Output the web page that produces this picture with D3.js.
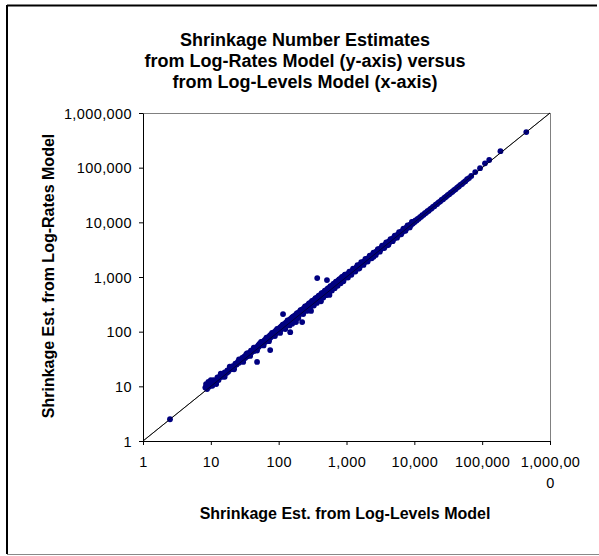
<!DOCTYPE html>
<html><head><meta charset="utf-8">
<script src="https://cdn.jsdelivr.net/npm/d3@7"></script>
<style>
body{margin:0;background:#fff;}
svg{display:block;}
</style></head>
<body><svg id="c" width="599" height="556"></svg>
<script>
const titleLines = ["Shrinkage Number Estimates","from Log-Rates Model (y-axis) versus","from Log-Levels Model (x-axis)"];
const xTitle = "Shrinkage Est. from Log-Levels Model";
const yTitle = "Shrinkage Est. from Log-Rates Model";
const tickValues = [1,10,100,1000,10000,100000,1000000];

// x / y pairs, grouped by decade of x
const ptsLow = [[2.5,2.5]];
const pts10 = [[8.3,9.5],[8.5,11],[8.6,10],[8.8,8.9],[9,10.5],[9.2,12],[9.4,9.8],[10.2,11.5],[10.5,10.2],[11,13],[11.5,12],[12,12.5],[12.5,14.5],[13,13],[13.5,15],[14,14.8],[15,16.5],[15.5,15],[16,18],[17,17.5],[17.5,19.5],[18,18.5],[19,21],[20,20.5],[21,23.5],[22,22],[23,26],[24,25],[25,28],[26,27],[27,30],[28,29],[29,33],[30,31],[31,35],[32,33],[33,38],[34,35],[35,40],[36,37],[37,41],[38,39],[39,45],[40,42],[42,47],[43,44],[44,50],[45,47],[47,52],[48,49],[50,56],[51,53],[52,60],[54,57],[55,62],[57,58],[58,66],[60,63],[62,70],[63,65],[65,73],[67,69],[68,78],[70,73],[72,81],[74,76],[75,86],[77,80],[79,90],[81,84],[83,94],[85,88],[87,99],[89,92],[91,104],[93,96],[95,108],[97,100],[48,28],[75,46],
  [10,13],[12,11],[14,17],[16,15],[19,23],[22,20.5],[26,31],[30,28],[34,40],[38,36],[43,51],[48,45],[55,65],[60,56],[66,78],[72,67],[80,95],[88,83],[95,112]];
const pts100 = [[100,112],[102,105],[105,120],[108,110],[110,126],[113,116],[116,132],[116,210],[119,122],[122,139],[125,128],[128,146],[131,134],[134,153],[138,141],[141,160],[145,148],[148,98],[148,170],[152,155],[156,178],[158,140],[160,164],[164,188],[168,172],[172,197],[177,181],[180,150],[181,207],[186,190],[190,218],[195,200],[200,228],[205,210],[210,240],[215,220],[222,150],[220,252],[226,231],[232,265],[238,243],[244,280],[250,256],[256,292],[262,268],[268,305],[275,280],[282,322],[289,296],[296,338],[300,240],[304,310],[311,355],[319,326],[327,373],[335,342],[343,392],[352,360],[360,410],[370,378],[370,955],[379,432],[388,396],[398,452],[408,416],[418,475],[420,360],[428,437],[439,500],[450,460],[461,525],[473,482],[485,550],[497,507],[509,580],[515,880],[522,533],[535,608],[548,560],[560,470],[562,640],[576,588],[590,672],[605,617],[620,705],[635,648],[651,740],[667,680],[684,778],[700,715],[718,818],[736,750],[754,858],[773,790],[792,900],[812,828],[832,948],[853,870],[874,995],[896,915],[918,1045],[941,960],[965,1100],[989,1010],
  [105,95],[115,135],[125,112],[135,160],[145,130],[160,185],[170,155],[185,215],[195,178],[210,248],[230,210],[245,290],[260,240],[280,330],[290,265],[310,365],[330,300],[350,410],[365,335],[390,455],[410,380],[430,505],[455,420],[480,560],[500,465],[530,620],[555,515],[580,680],[610,565],[640,745],[670,625],[700,820],[740,690],[780,905],[820,765],[860,1000],[900,840],[950,1100]];
const pts1000 = [[1000,1080],[1030,1040],[1060,1150],[1090,1100],[1120,1200],[1150,1160],[1190,1280],[1220,1230],[1260,1350],[1290,1300],[1330,1420],[1370,1380],[1410,1510],[1450,1460],[1500,1600],[1500,1420],[1540,1550],[1590,1700],[1640,1650],[1690,1800],[1740,1750],[1790,1910],[1850,1860],[1900,2030],[1960,1970],[2020,2150],[2080,2090],[2150,2290],[2210,2220],[2280,2420],[2350,2360],[2420,2570],[2500,2510],[2500,2350],[2570,2730],[2650,2660],[2730,2900],[2820,2830],[2900,3080],[2990,3000],[3080,3270],[3180,3190],[3280,3470],[3380,3390],[3480,3690],[3590,3600],[3700,3920],[3810,3820],[3930,4160],[4000,3800],[4050,4060],[4180,4420],[4310,4320],[4440,4690],[4580,4590],[4720,4980],[4860,4870],[5010,5290],[5170,5180],[5330,5620],[5490,5500],[5660,5970],[5840,5850],[6020,6340],[6200,6210],[6400,6730],[6600,6610],[6800,7150],[7010,7020],[7230,7600],[7450,7460],[7680,8070],[7920,7930],[8160,8570],[8410,8420],[8670,9100],[8940,8950],[9220,9670],[9500,9510],[9800,10270],
  [1050,980],[1100,1250],[1180,1100],[1250,1420],[1350,1260],[1450,1640],[1550,1450],[1650,1860],[1780,1660],[1900,2140],[2050,1920],[2200,2470],[2350,2200],[2500,2800],[2700,2530],[2900,3240],[3100,2910],[3350,3740],[3600,3380],[3850,4290],[4150,3900],[4450,4950],[4800,4520],[5150,5720],[5550,5230],[5950,6600],[6400,6040],[6900,7640],[7400,6980],[7950,8800],[8550,8080],[9200,10150]];
const pts10000 = [[10100,10100],[10400,10800],[10800,10800],[11200,11600],[11600,11600],[12100,12500],[12600,12600],[13100,13500],[13700,13700],[14300,14700],[14900,14900],[15600,16000],[16300,16300],[17100,17500],[17900,17900],[18800,19200],[19700,19700],[20700,21100],[21700,21700],[22800,23200],[24000,24000],[25200,25600],[26500,26500],[27900,28300],[29400,29400],[31000,31400],[32700,32700],[34500,34900],[36400,36400],[38400,38800],[40500,40500],[42800,43200],[45200,45200],[47800,48500],[50500,50500],[53400,54000],[56500,56500],[60000,61500],[64000,64500],[69000,70500],[79000,83000],[93000,98000]];
const ptsHigh = [[110000,120000],[127000,138000],[186000,200000],[447000,447000]];

const svg = d3.select("#c");
const font = "'Liberation Sans', Arial, sans-serif";

// outer frame
svg.append("line").attr("x1",7).attr("y1",5.5).attr("x2",597).attr("y2",5.5).attr("stroke","#000").attr("stroke-width",2);
svg.append("line").attr("x1",7).attr("y1",5).attr("x2",7).attr("y2",554).attr("stroke","#000").attr("stroke-width",2);
svg.append("line").attr("x1",7).attr("y1",554.5).attr("x2",599).attr("y2",554.5).attr("stroke","#888").attr("stroke-width",1);

const x = d3.scaleLog().domain([1,1e6]).range([143,550]);
const y = d3.scaleLog().domain([1,1e6]).range([441,113]);

// plot area gray border (top, right)
svg.append("line").attr("x1",143).attr("y1",113.5).attr("x2",550.5).attr("y2",113.5).attr("stroke","#808080");
svg.append("line").attr("x1",550.5).attr("y1",113).attr("x2",550.5).attr("y2",441).attr("stroke","#808080");

// diagonal
svg.append("line").attr("x1",x(1)).attr("y1",y(1)).attr("x2",x(1e6)).attr("y2",y(1e6)).attr("stroke","#000").attr("stroke-width",0.9);

// points
const allPts = [].concat(ptsLow,pts10,pts100,pts1000,pts10000,ptsHigh);
svg.append("g").selectAll("circle").data(allPts).join("circle")
  .attr("cx",d=>x(d[0])).attr("cy",d=>y(d[1])).attr("r",2.9).attr("fill","#000080");

// redraw diagonal on top faintly (visible through the band as in the original)
svg.append("line").attr("x1",x(1)).attr("y1",y(1)).attr("x2",x(1e6)).attr("y2",y(1e6)).attr("stroke","#000").attr("stroke-width",0.8).attr("opacity",0.7);

const fmt = d3.format(",");
const xAxis = svg.append("g").attr("transform","translate(0,441)")
  .call(d3.axisBottom(x).tickValues(tickValues).tickFormat(fmt).tickSize(4).tickSizeOuter(0));
const yAxis = svg.append("g").attr("transform","translate(143,0)")
  .call(d3.axisLeft(y).tickValues(tickValues).tickFormat(fmt).tickSize(4).tickSizeOuter(0));
[xAxis,yAxis].forEach(g=>{
  g.select(".domain").attr("stroke","#000");
  g.selectAll(".tick line").attr("stroke","#000");
  g.selectAll("text").attr("font-family",font).attr("font-size",14.5).attr("letter-spacing",0.4).attr("fill","#000");
});
xAxis.selectAll(".tick text").attr("dy",null).attr("y",26);
yAxis.selectAll(".tick text").attr("x",-11).attr("dy","0.36em");
// wrap the last x label as in the original
xAxis.selectAll(".tick text").filter(d=>d===1e6).each(function(d){
  const s = fmt(d);
  const t = d3.select(this).text(null);
  t.append("tspan").attr("x",0).text(s.slice(0,-1));
  t.append("tspan").attr("x",0).attr("dy",21).text(s.slice(-1));
});

// titles
const tt = svg.append("text").attr("text-anchor","middle").attr("font-family",font).attr("font-weight","bold").attr("font-size",18).attr("fill","#000");
titleLines.forEach((l,i)=>tt.append("tspan").attr("x",305).attr("y",46+i*21).text(l));
svg.append("text").attr("x",345).attr("y",519).attr("text-anchor","middle").attr("font-family",font).attr("font-weight","bold").attr("font-size",16).text(xTitle);
svg.append("text").attr("transform","translate(54,276) rotate(-90)").attr("text-anchor","middle").attr("font-family",font).attr("font-weight","bold").attr("font-size",16).text(yTitle);
</script></body></html>
